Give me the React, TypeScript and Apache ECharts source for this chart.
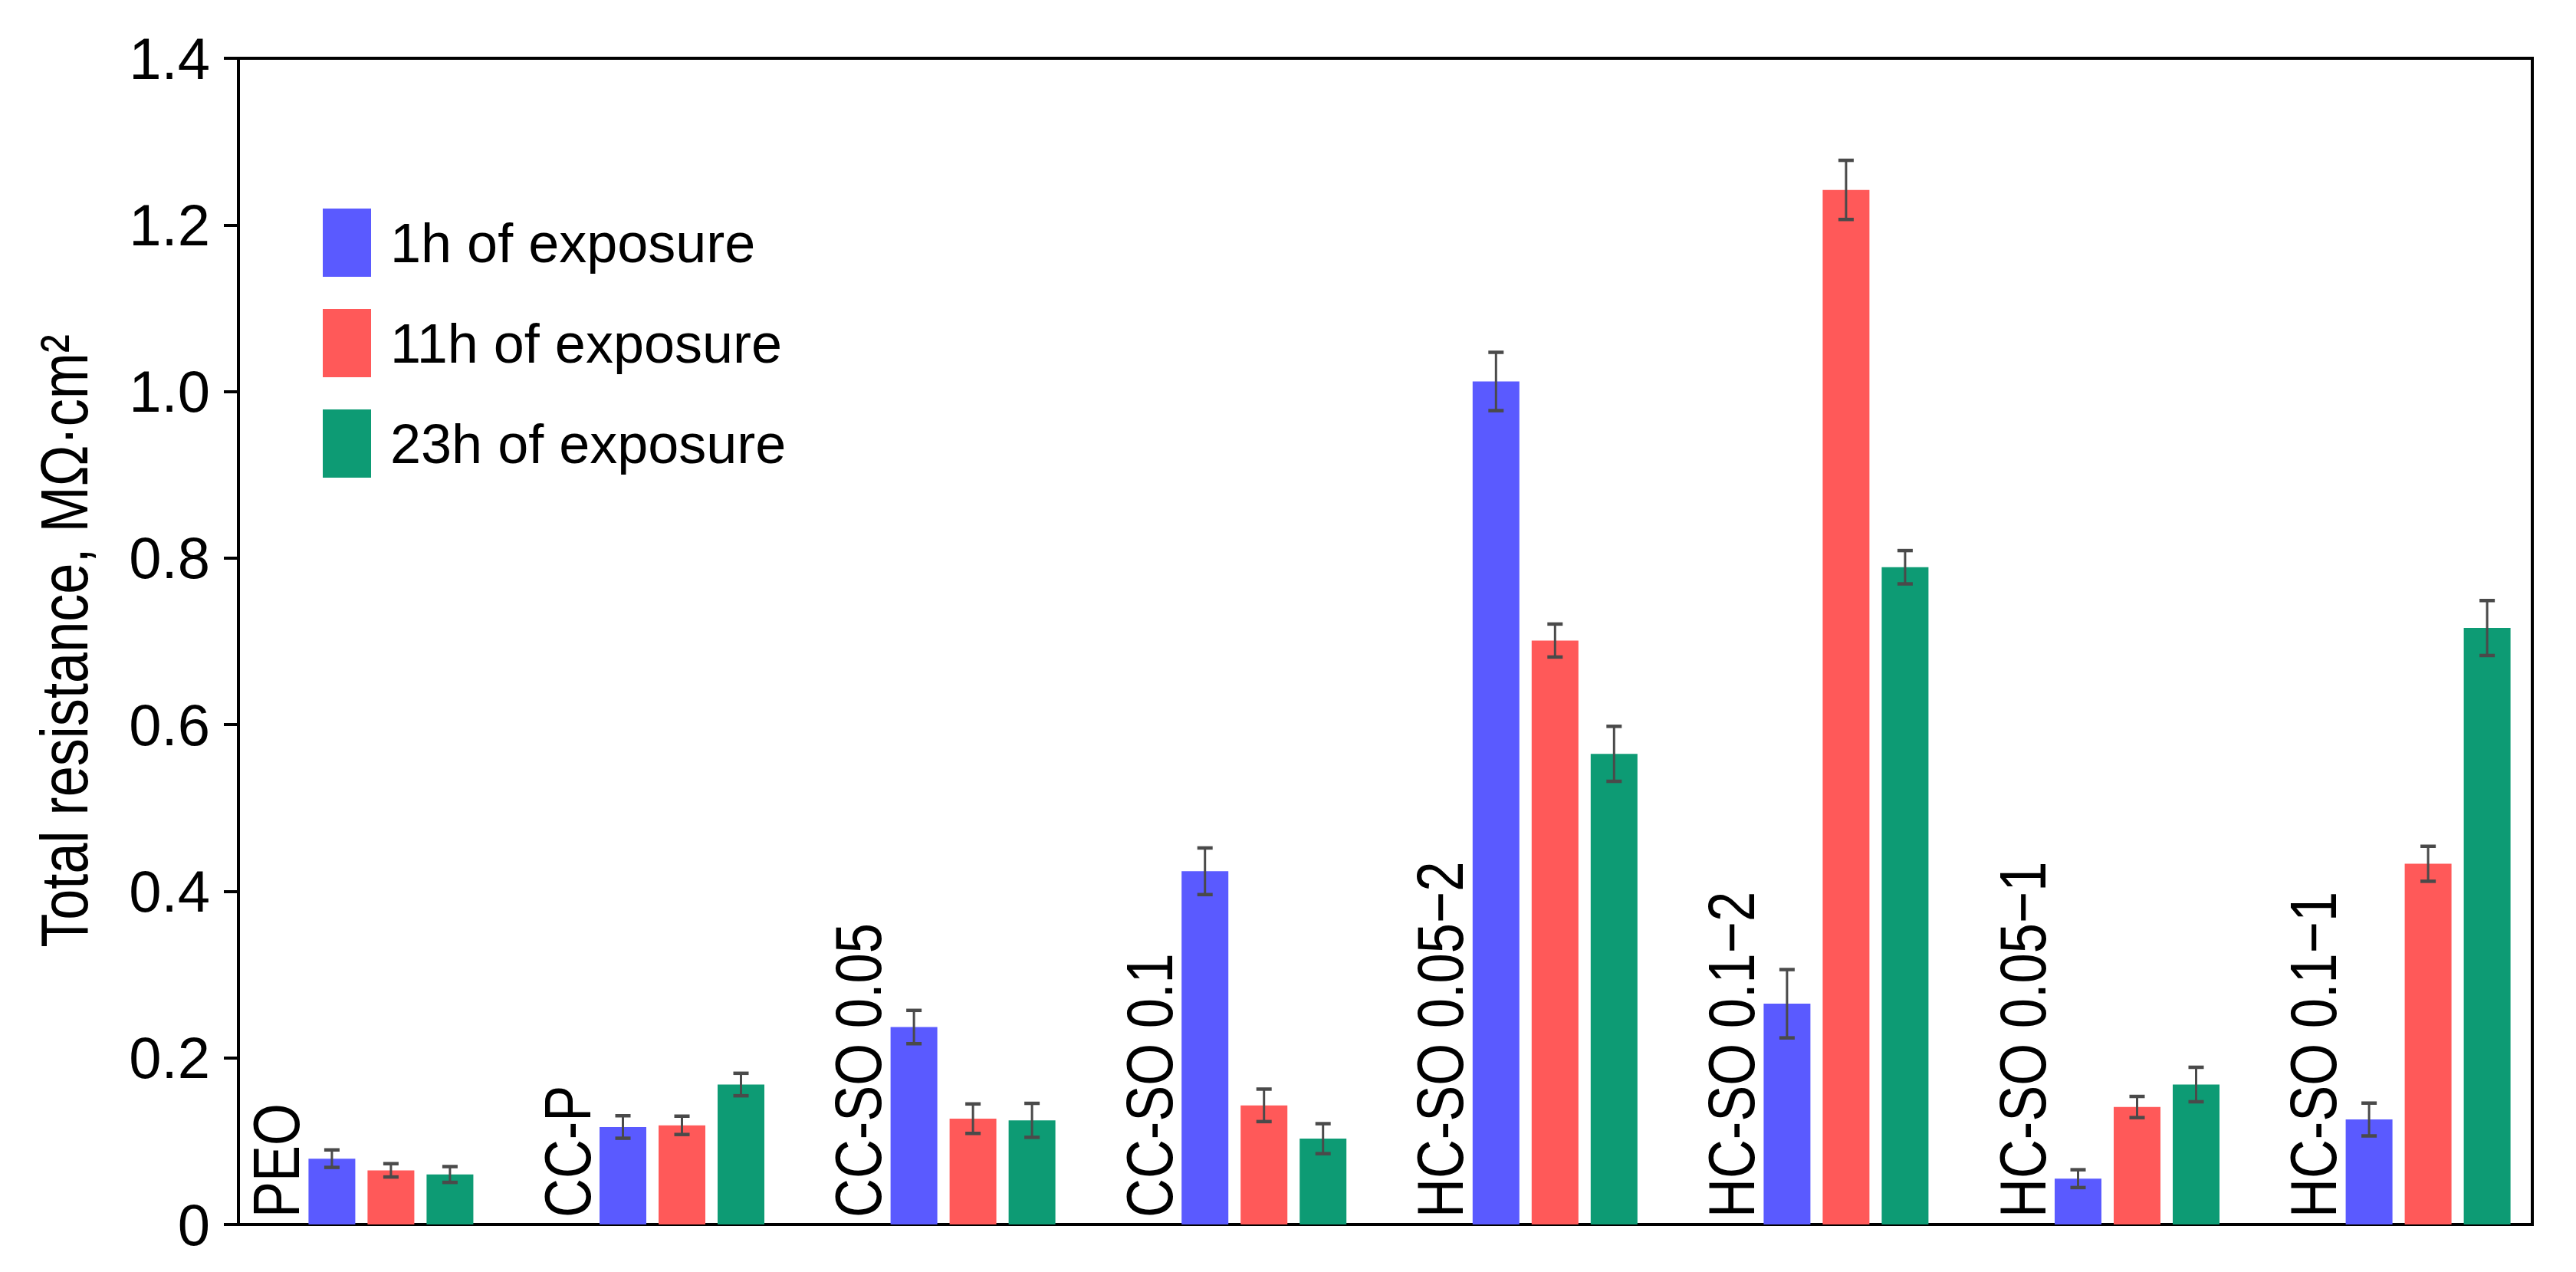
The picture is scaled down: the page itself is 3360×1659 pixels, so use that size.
import React, { useEffect, useRef } from 'react';
import * as echarts from 'echarts';

const categories = [
  'PEO',
  'CC-P',
  'CC-SO 0.05',
  'CC-SO 0.1',
  'HC-SO 0.05\u22122',
  'HC-SO 0.1\u22122',
  'HC-SO 0.05\u22121',
  'HC-SO 0.1\u22121',
];
const seriesNames = ['1h of exposure', '11h of exposure', '23h of exposure'];
const values1h = [0.079, 0.117, 0.237, 0.424, 1.012, 0.265, 0.055, 0.126];
const errors1h = [0.0105, 0.0135, 0.02, 0.028, 0.035, 0.041, 0.0107, 0.0197];
const values11h = [0.065, 0.119, 0.127, 0.143, 0.701, 1.242, 0.141, 0.433];
const errors11h = [0.008, 0.011, 0.0177, 0.0195, 0.0198, 0.0355, 0.0127, 0.021];
const values23h = [0.06, 0.168, 0.125, 0.103, 0.565, 0.789, 0.168, 0.716];
const errors23h = [0.0095, 0.0135, 0.0204, 0.018, 0.033, 0.02, 0.0207, 0.033];
const yTickValues = [0, 0.2, 0.4, 0.6, 0.8, 1.0, 1.2, 1.4];
const yTitle = 'Total resistance, M\u03A9\u00B7cm\u00B2';

const colors = ['#5a5aff', '#ff5959', '#0d9b74'];
const FONT = "'Liberation Sans', Arial, sans-serif";
const NARROW = 0.82;
const BAR_W = 61;
const BAR_STEP = 77;

export default function App() {
  const ref = useRef<HTMLDivElement>(null);

  useEffect(() => {
    if (!ref.current) return;
    const chart = echarts.init(ref.current, null, { renderer: 'svg' });

    const groups = [
      { v: values1h, e: errors1h },
      { v: values11h, e: errors11h },
      { v: values23h, e: errors23h },
    ];

    const barSeries = groups.map((g, k) => ({
      name: seriesNames[k],
      type: 'bar',
      data: g.v.map((v, i) => [i, v]),
      barWidth: BAR_W,
      barGap: ((BAR_STEP - BAR_W) / BAR_W) * 100 + '%',
      itemStyle: { color: colors[k] },
      z: 2,
    }));

    const errSeries = groups.map((g, k) => ({
      type: 'custom',
      name: 'err' + k,
      z: 5,
      silent: true,
      data: g.v.map((v, i) => [i, v, g.e[i]]),
      encode: { x: 0, y: 1 },
      renderItem: (params: any, api: any) => {
        const i = api.value(0);
        const v = api.value(1);
        const e = api.value(2);
        const x = api.coord([i, v])[0] + (k - 1) * BAR_STEP;
        const top = api.coord([i, v + e])[1];
        const bot = api.coord([i, v - e])[1];
        const stroke = '#4a4a4a';
        return {
          type: 'group',
          children: [
            { type: 'line', shape: { x1: x, y1: top, x2: x, y2: bot }, style: { stroke, lineWidth: 3 } },
            { type: 'line', shape: { x1: x - 10, y1: top, x2: x + 10, y2: top }, style: { stroke, lineWidth: 4.5 } },
            { type: 'line', shape: { x1: x - 10, y1: bot, x2: x + 10, y2: bot }, style: { stroke, lineWidth: 4.5 } },
          ],
        };
      },
    }));

    const labelSeries = {
      type: 'custom',
      name: 'labels',
      z: 6,
      silent: true,
      data: categories.map((_, i) => [i, 0]),
      encode: { x: 0, y: 1 },
      renderItem: (params: any, api: any) => {
        const i = api.value(0);
        const p = api.coord([i, 0]);
        return {
          type: 'text',
          x: p[0] - BAR_STEP - BAR_W / 2 + 1,
          y: p[1] - 9,
          rotation: Math.PI / 2,
          scaleX: NARROW,
          style: {
            text: categories[params.dataIndex],
            fontSize: 86,
            fontFamily: FONT,
            fill: '#000',
            align: 'left',
            verticalAlign: 'bottom',
          },
        };
      },
    };

    chart.setOption({
      animation: false,
      backgroundColor: '#ffffff',
      grid: {
        left: 311,
        right: 57,
        top: 76,
        bottom: 62,
        show: true,
        borderColor: '#000',
        borderWidth: 4,
        backgroundColor: 'transparent',
      },
      graphic: [
        {
          type: 'text',
          x: 83,
          y: 836,
          rotation: Math.PI / 2,
          scaleX: NARROW,
          style: {
            text: yTitle,
            fontSize: 88,
            fontFamily: FONT,
            fill: '#000',
            align: 'center',
            verticalAlign: 'middle',
          },
        },
      ],
      legend: {
        data: seriesNames,
        orient: 'vertical',
        left: 421,
        top: 272,
        padding: 0,
        itemWidth: 63,
        itemHeight: 89,
        itemGap: 42,
        icon: 'rect',
        selectedMode: false,
        textStyle: { fontSize: 72, fontFamily: FONT, color: '#000', padding: [0, 0, 0, 20] },
      },
      xAxis: {
        type: 'value',
        min: -0.524,
        max: 7.358,
        axisLine: { show: true, onZero: false, lineStyle: { color: '#000', width: 4 } },
        axisTick: { show: false },
        axisLabel: { show: false },
        splitLine: { show: false },
      },
      yAxis: {
        type: 'value',
        min: yTickValues[0],
        max: yTickValues[yTickValues.length - 1],
        interval: 0.2,
        axisLine: { show: true, onZero: false, lineStyle: { color: '#000', width: 4 } },
        axisTick: { show: true, inside: false, length: 19, lineStyle: { color: '#000', width: 4 } },
        axisLabel: {
          margin: 37,
          fontSize: 76,
          fontFamily: FONT,
          color: '#000',
          formatter: (v: number) => (v === 0 ? '0' : v.toFixed(1)),
        },
        splitLine: { show: false },
      },
      series: [...barSeries, ...errSeries, labelSeries],
    });

    return () => chart.dispose();
  }, []);

  return (
    <div
      ref={ref}
      style={{ position: 'absolute', left: 0, top: 0, width: 3360, height: 1659, background: '#fff' }}
    />
  );
}
